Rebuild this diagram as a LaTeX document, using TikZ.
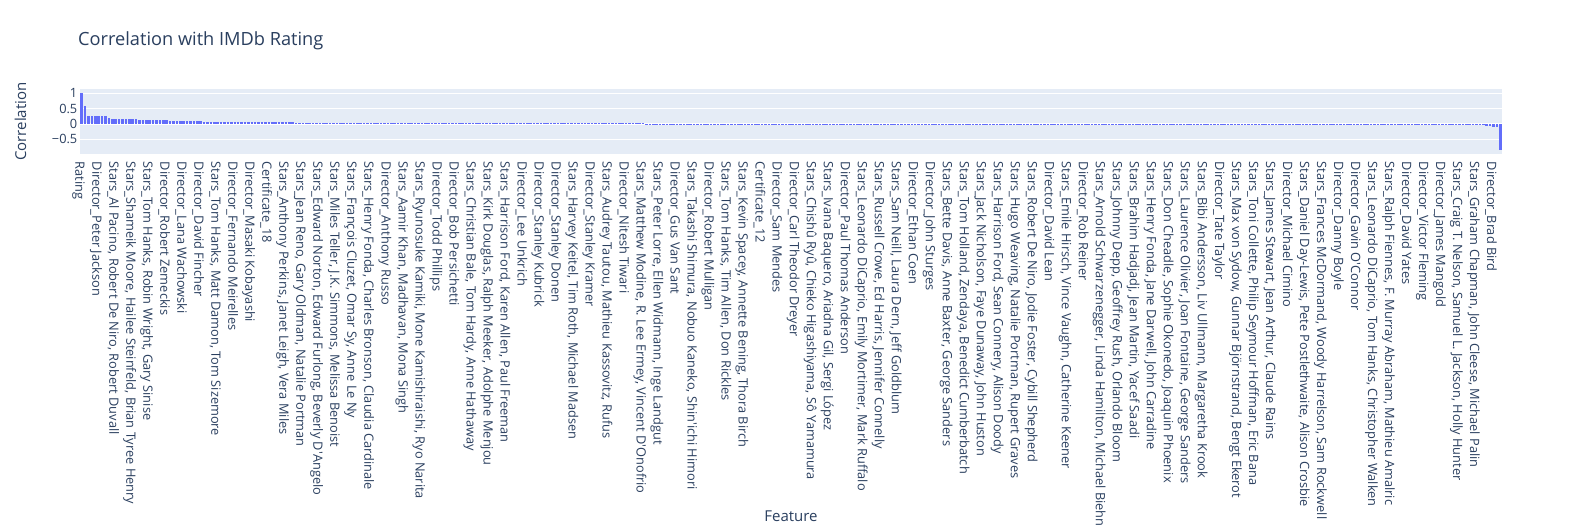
\documentclass[tikz,border=0pt]{standalone}
\usepackage{fontspec}
\setmainfont{Open Sans}
\definecolor{txt}{HTML}{2A3F5F}
\definecolor{plotbg}{HTML}{E5ECF6}
\definecolor{barcol}{HTML}{636EFA}
\newcommand\segbars[4]{%
  \foreach \i in {#1,...,#2}{%
    \pgfmathsetmacro\vv{(#3)+((#4)-(#3))*(\i-(#1))/max((#2)-(#1),1)}%
    \fill[barstyle] ({80+(\i+0.12)*3.402},123.77) rectangle ({80+(\i+0.88)*3.402},{123.77-30.47*\vv});
  }}
\begin{document}
\begin{tikzpicture}[x=1pt,y=-1pt,
  barstyle/.style={fill=barcol},
  gridline/.style={draw=white,line width=1pt},
  ticklab/.style={rotate=-90,anchor=mid west,inner sep=0pt,text=txt,font=\fontsize{12.8}{15}\selectfont},
  ytick/.style={anchor=east,inner sep=0pt,text=txt,font=\fontsize{12.8}{15}\selectfont},
  axtitle/.style={inner sep=0pt,text=txt,font=\fontsize{15}{18}\selectfont},
  ttl/.style={inner sep=0pt,text=txt,font=\fontsize{18.2}{21}\selectfont}]
\useasboundingbox (0,0) rectangle (1582,525);
\fill[white] (0,0) rectangle (1582,525);
% plot area
\fill[plotbg] (80,89) rectangle (1502,153.5);
\foreach \v in {1,0.5,-0.5}{\draw[gridline] (80,{123.77-30.47*\v}) -- (1502,{123.77-30.47*\v});}
\draw[white,line width=2pt] (80,123.77) -- (1502,123.77);
% bars
\segbars{0}{0}{1.0}{1.0}
\segbars{1}{1}{0.57}{0.57}
\segbars{2}{7}{0.265}{0.245}
\segbars{8}{13}{0.175}{0.165}
\segbars{14}{16}{0.15}{0.145}
\segbars{17}{25}{0.125}{0.115}
\segbars{26}{35}{0.095}{0.085}
\segbars{36}{52}{0.07}{0.06}
\segbars{53}{82}{0.045}{0.035}
\segbars{83}{135}{0.03}{0.018}
\segbars{136}{200}{0.015}{0.002}
\segbars{201}{283}{-0.006}{-0.015}
\segbars{284}{400}{-0.018}{-0.035}
\segbars{401}{412}{-0.045}{-0.05}
\segbars{413}{413}{-0.06}{-0.06}
\segbars{414}{414}{-0.07}{-0.07}
\segbars{415}{415}{-0.09}{-0.09}
\segbars{416}{416}{-0.1}{-0.1}
\segbars{417}{417}{-0.87}{-0.87}
% y ticks
\node[ytick] (y1) at (77.5,93.3) {1};
\node[ytick] (y2) at (77.5,108.54) {0.5};
\node[ytick] (y3) at (77.5,123.77) {0};
\node[ytick] (y4) at (77.5,139) {−0.5};
% x tick labels
\foreach \lab [count=\k from 0] in {Rating, Director\_Peter Jackson, {Stars\_Al Pacino, Robert De Niro, Robert Duvall}, {Stars\_Shameik Moore, Hailee Steinfeld, Brian Tyree Henry}, {Stars\_Tom Hanks, Robin Wright, Gary Sinise}, Director\_Robert Zemeckis, Director\_Lana Wachowski, Director\_David Fincher, {Stars\_Tom Hanks, Matt Damon, Tom Sizemore}, Director\_Fernando Meirelles, Director\_Masaki Kobayashi, Certificate\_18, {Stars\_Anthony Perkins, Janet Leigh, Vera Miles}, {Stars\_Jean Reno, Gary Oldman, Natalie Portman}, {Stars\_Edward Norton, Edward Furlong, Beverly D\textquotesingle Angelo}, {Stars\_Miles Teller, J.K. Simmons, Melissa Benoist}, {Stars\_François Cluzet, Omar Sy, Anne Le Ny}, {Stars\_Henry Fonda, Charles Bronson, Claudia Cardinale}, Director\_Anthony Russo, {Stars\_Aamir Khan, Madhavan, Mona Singh}, {Stars\_Ryunosuke Kamiki, Mone Kamishiraishi, Ryo Narita}, Director\_Todd Phillips, Director\_Bob Persichetti, {Stars\_Christian Bale, Tom Hardy, Anne Hathaway}, {Stars\_Kirk Douglas, Ralph Meeker, Adolphe Menjou}, {Stars\_Harrison Ford, Karen Allen, Paul Freeman}, Director\_Lee Unkrich, Director\_Stanley Kubrick, Director\_Stanley Donen, {Stars\_Harvey Keitel, Tim Roth, Michael Madsen}, Director\_Stanley Kramer, {Stars\_Audrey Tautou, Mathieu Kassovitz, Rufus}, Director\_Nitesh Tiwari, {Stars\_Matthew Modine, R. Lee Ermey, Vincent D\textquotesingle Onofrio}, {Stars\_Peter Lorre, Ellen Widmann, Inge Landgut}, Director\_Gus Van Sant, {Stars\_Takashi Shimura, Nobuo Kaneko, Shin\textquotesingle ichi Himori}, Director\_Robert Mulligan, {Stars\_Tom Hanks, Tim Allen, Don Rickles}, {Stars\_Kevin Spacey, Annette Bening, Thora Birch}, Certificate\_12, Director\_Sam Mendes, Director\_Carl Theodor Dreyer, {Stars\_Chishû Ryû, Chieko Higashiyama, Sô Yamamura}, {Stars\_Ivana Baquero, Ariadna Gil, Sergi López}, Director\_Paul Thomas Anderson, {Stars\_Leonardo DiCaprio, Emily Mortimer, Mark Ruffalo}, {Stars\_Russell Crowe, Ed Harris, Jennifer Connelly}, {Stars\_Sam Neill, Laura Dern, Jeff Goldblum}, Director\_Ethan Coen, Director\_John Sturges, {Stars\_Bette Davis, Anne Baxter, George Sanders}, {Stars\_Tom Holland, Zendaya, Benedict Cumberbatch}, {Stars\_Jack Nicholson, Faye Dunaway, John Huston}, {Stars\_Harrison Ford, Sean Connery, Alison Doody}, {Stars\_Hugo Weaving, Natalie Portman, Rupert Graves}, {Stars\_Robert De Niro, Jodie Foster, Cybill Shepherd}, Director\_David Lean, {Stars\_Emile Hirsch, Vince Vaughn, Catherine Keener}, Director\_Rob Reiner, {Stars\_Arnold Schwarzenegger, Linda Hamilton, Michael Biehn}, {Stars\_Johnny Depp, Geoffrey Rush, Orlando Bloom}, {Stars\_Brahim Hadjadj, Jean Martin, Yacef Saadi}, {Stars\_Henry Fonda, Jane Darwell, John Carradine}, {Stars\_Don Cheadle, Sophie Okonedo, Joaquin Phoenix}, {Stars\_Laurence Olivier, Joan Fontaine, George Sanders}, {Stars\_Bibi Andersson, Liv Ullmann, Margaretha Krook}, Director\_Tate Taylor, {Stars\_Max von Sydow, Gunnar Björnstrand, Bengt Ekerot}, {Stars\_Toni Collette, Philip Seymour Hoffman, Eric Bana}, {Stars\_James Stewart, Jean Arthur, Claude Rains}, Director\_Michael Cimino, {Stars\_Daniel Day-Lewis, Pete Postlethwaite, Alison Crosbie}, {Stars\_Frances McDormand, Woody Harrelson, Sam Rockwell}, Director\_Danny Boyle, Director\_Gavin O\textquotesingle Connor, {Stars\_Leonardo DiCaprio, Tom Hanks, Christopher Walken}, {Stars\_Ralph Fiennes, F. Murray Abraham, Mathieu Amalric}, Director\_David Yates, Director\_Victor Fleming, Director\_James Mangold, {Stars\_Craig T. Nelson, Samuel L. Jackson, Holly Hunter}, {Stars\_Graham Chapman, John Cleese, Michael Palin}, Director\_Brad Bird}
{\node[ticklab] (t\k) at ({80+(5*\k+0.5)*3.402-3.7},161.5) {\lab};}
% titles
\node[ttl,anchor=base west] (title) at (78,45) {Correlation with IMDb Rating};
\node[axtitle,anchor=base,rotate=90] (ytitle) at (26,121.6) {Correlation};
\node[axtitle,anchor=base] (xtitle) at (791,521.7) {Feature};
\end{tikzpicture}
\end{document}
